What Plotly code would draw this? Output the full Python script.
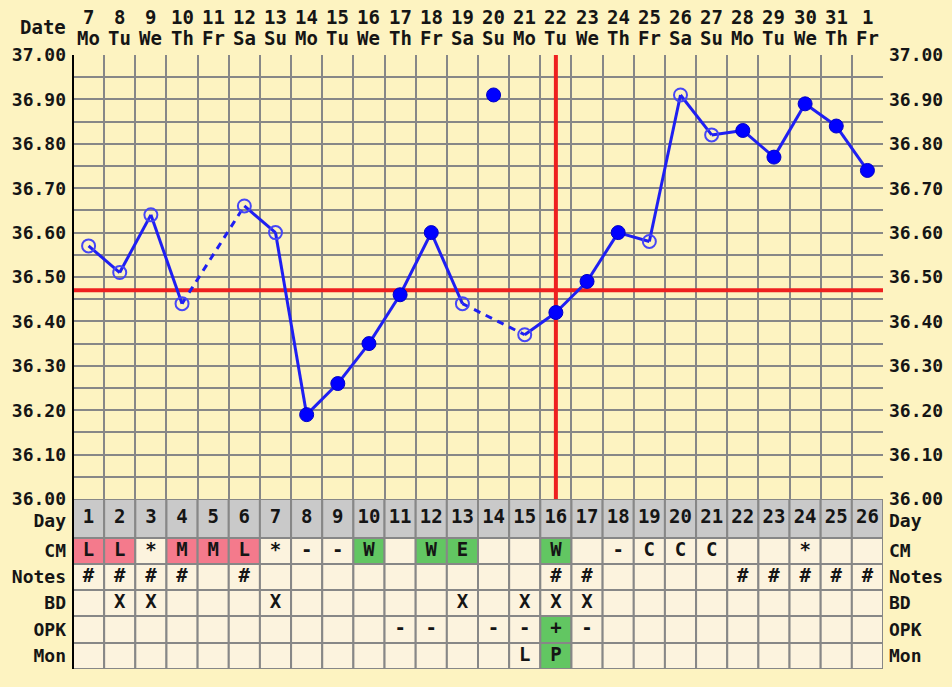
import plotly.graph_objects as go

# ---- cycle data -------------------------------------------------------
cycle_days = list(range(1, 27))
date_nums = ["7", "8", "9", "10", "11", "12", "13", "14", "15", "16", "17", "18", "19",
             "20", "21", "22", "23", "24", "25", "26", "27", "28", "29", "30", "31", "1"]
weekdays = ["Mo", "Tu", "We", "Th", "Fr", "Sa", "Su", "Mo", "Tu", "We", "Th", "Fr", "Sa",
            "Su", "Mo", "Tu", "We", "Th", "Fr", "Sa", "Su", "Mo", "Tu", "We", "Th", "Fr"]

# basal body temperatures (°C); None = not recorded
temps = [36.57, 36.51, 36.64, 36.44, None, 36.66, 36.60, 36.19, 36.26, 36.35,
         36.46, 36.60, 36.44, 36.91, 36.37, 36.42, 36.49, 36.60, 36.58, 36.91,
         36.82, 36.83, 36.77, 36.89, 36.84, 36.74]
# True = temperature taken at an irregular time (open circle)
open_marks = [True, True, True, True, False, True, True, False, False, False,
              False, False, True, False, True, False, False, False, True, True,
              True, False, False, False, False, False]
discarded_days = [14]

cover_line = 36.47
ovulation_day = 16

# observation rows
cm = ["L", "L", "*", "M", "M", "L", "*", "-", "-", "W", "", "W", "E", "", "", "W",
      "", "-", "C", "C", "C", "", "", "*", "", ""]
notes = ["#", "#", "#", "#", "", "#", "", "", "", "", "", "", "", "", "", "#", "#",
         "", "", "", "", "#", "#", "#", "#", "#"]
bd = ["", "X", "X", "", "", "", "X", "", "", "", "", "", "X", "", "X", "X", "X",
      "", "", "", "", "", "", "", "", ""]
opk = ["", "", "", "", "", "", "", "", "", "", "-", "-", "", "-", "-", "+", "-",
       "", "", "", "", "", "", "", "", ""]
mon = ["", "", "", "", "", "", "", "", "", "", "", "", "", "", "L", "P", "",
       "", "", "", "", "", "", "", "", ""]

y_ticks = [round(36.0 + 0.05 * i, 2) for i in range(21)]
y_labels = [f"{v:.2f}" if i % 2 == 0 else "" for i, v in enumerate(y_ticks)]

# ---- styling ----------------------------------------------------------
W, H = 952, 687
BG = "#fdf3c1"
CELL = "#fcf3de"
DAYCELL = "#c9c9c9"
PINK = "#f47a8c"
GREEN = "#62c662"
GRID = "#878787"
RED = "#ee2020"
BLUE = "#1f1ff2"
OPEN_BLUE = "#4646f6"
TXT = "#151515"
FONT = "DejaVu Sans Mono"
FS = 19
AXFS = 18

plot_left, plot_right = 73, 883
temp_top, temp_bottom, table_bottom = 55, 499, 669

def px_x(p):
    return p / W

def px_y(p):
    return 1 - p / H

fig = go.Figure()

# ---- reference lines --------------------------------------------------
fig.add_trace(go.Scatter(x=[0, len(cycle_days)], y=[cover_line, cover_line],
                         mode="lines", line=dict(color=RED, width=4),
                         hoverinfo="skip", showlegend=False))
fig.add_trace(go.Scatter(x=[ovulation_day - 0.5, ovulation_day - 0.5], y=[36.0, 37.0],
                         mode="lines", line=dict(color=RED, width=4),
                         hoverinfo="skip", showlegend=False))

# ---- temperature curve ------------------------------------------------
kept = [(d, t) for d, t in zip(cycle_days, temps)
        if t is not None and d not in discarded_days]
solid_x, solid_y, dash_x, dash_y = [], [], [], []
for (d0, t0), (d1, t1) in zip(kept[:-1], kept[1:]):
    if d1 - d0 == 1:
        solid_x += [d0 - 0.5, d1 - 0.5, None]
        solid_y += [t0, t1, None]
    else:
        dash_x += [d0 - 0.5, d1 - 0.5, None]
        dash_y += [t0, t1, None]

fig.add_trace(go.Scatter(x=solid_x, y=solid_y, mode="lines",
                         line=dict(color=BLUE, width=3), showlegend=False))
fig.add_trace(go.Scatter(x=dash_x, y=dash_y, mode="lines",
                         line=dict(color=BLUE, width=3, dash="7px,6px"),
                         showlegend=False))

fx = [d - 0.5 for d, t, o in zip(cycle_days, temps, open_marks) if t is not None and not o]
fy = [t for t, o in zip(temps, open_marks) if t is not None and not o]
ox = [d - 0.5 for d, t, o in zip(cycle_days, temps, open_marks) if t is not None and o]
oy = [t for t, o in zip(temps, open_marks) if t is not None and o]

fig.add_trace(go.Scatter(x=fx, y=fy, mode="markers",
                         marker=dict(color="#0000ff", size=14,
                                     line=dict(color="#0000c8", width=1)),
                         showlegend=False))
fig.add_trace(go.Scatter(x=ox, y=oy, mode="markers",
                         marker=dict(symbol="circle-open", color=OPEN_BLUE, size=13,
                                     line=dict(width=2)),
                         showlegend=False))

# right-hand temperature axis carrier
fig.add_trace(go.Scatter(x=[None], y=[None], xaxis="x", yaxis="y3", showlegend=False))

# ---- observation table ------------------------------------------------
row_names = ["Day", "CM", "Notes", "BD", "OPK", "Mon"]
row_heights = [39, 26, 26, 26, 27, 26]
row_values = [[str(d) for d in cycle_days], cm, notes, bd, opk, mon]
row_highlight = [
    {},
    {"L": PINK, "M": PINK, "H": PINK, "W": GREEN, "E": GREEN},
    {},
    {},
    {"+": GREEN},
    {"P": GREEN},
]
table_total = sum(row_heights)

row_top = []
acc = table_total
for h in row_heights:
    row_top.append(acc)
    acc -= h
row_centers = [t - h / 2 for t, h in zip(row_top, row_heights)]
# the "Day" caption sits a little low in its tall row, clear of the 36.00 label
label_pos = [c - (2 if n == "Day" else 0) for c, n in zip(row_centers, row_names)]

shapes = []
for r, name in enumerate(row_names):
    y1 = row_top[r]
    y0 = y1 - row_heights[r]
    for i, d in enumerate(cycle_days):
        val = row_values[r][i]
        fill = DAYCELL if name == "Day" else row_highlight[r].get(val, CELL)
        shapes.append(dict(type="rect", xref="x2", yref="y2", x0=d - 1, x1=d,
                           y0=y0, y1=y1, fillcolor=fill,
                           line=dict(color=GRID, width=2), layer="below"))
    xs = [d - 0.5 for d, v in zip(cycle_days, row_values[r]) if v]
    ts = [v for v in row_values[r] if v]
    fig.add_trace(go.Scatter(x=xs, y=[row_centers[r]] * len(xs), text=ts,
                             mode="text", textposition="middle center",
                             textfont=dict(family=FONT, size=FS, color=TXT, weight="bold"),
                             xaxis="x2", yaxis="y2", hoverinfo="skip",
                             showlegend=False))

fig.add_trace(go.Scatter(x=[None], y=[None], xaxis="x2", yaxis="y4", showlegend=False))

# left border running through chart and table
shapes.append(dict(type="line", xref="paper", yref="paper",
                   x0=px_x(plot_left), x1=px_x(plot_left),
                   y0=px_y(table_bottom), y1=px_y(temp_top),
                   line=dict(color="#000000", width=2)))

# ---- header: dates and weekdays --------------------------------------
annotations = []
for d, n, w in zip(cycle_days, date_nums, weekdays):
    annotations.append(dict(x=d - 0.5, y=px_y(17), xref="x", yref="paper", text=n,
                            showarrow=False, xanchor="center", yanchor="middle",
                            font=dict(family=FONT, size=FS, color=TXT, weight="bold")))
    annotations.append(dict(x=d - 0.5, y=px_y(38), xref="x", yref="paper", text=w,
                            showarrow=False, xanchor="center", yanchor="middle",
                            font=dict(family=FONT, size=FS, color=TXT, weight="bold")))
annotations.append(dict(x=px_x(68), y=px_y(27), xref="paper", yref="paper", text="Date",
                        showarrow=False, xanchor="right", yanchor="middle",
                        font=dict(family=FONT, size=FS, color=TXT, weight="bold")))

tick_font = dict(family=FONT, size=AXFS, color=TXT, weight="bold")
x_dom = [px_x(plot_left), px_x(plot_right)]
temp_dom = [px_y(temp_bottom), px_y(temp_top)]
table_dom = [px_y(table_bottom), px_y(temp_bottom)]

fig.update_layout(
    width=W, height=H,
    margin=dict(l=0, r=0, t=0, b=0, autoexpand=False),
    paper_bgcolor=BG, plot_bgcolor=BG,
    showlegend=False,
    shapes=shapes,
    annotations=annotations,
    xaxis=dict(domain=x_dom, range=[0, len(cycle_days)], anchor="y", automargin=False,
               tickvals=list(range(len(cycle_days) + 1)), showticklabels=False,
               ticks="", showgrid=True, gridcolor=GRID, gridwidth=2, zeroline=False,
               showline=True, linecolor="#333333", linewidth=3, fixedrange=True),
    yaxis=dict(domain=temp_dom, range=[36.0, 37.0], anchor="x", automargin=False,
               tickvals=y_ticks, ticktext=y_labels, tickfont=tick_font,
               ticks="", ticklabelstandoff=6, showgrid=True, gridcolor=GRID,
               gridwidth=2, zeroline=False, showline=False),
    yaxis3=dict(overlaying="y", side="right", anchor="x", range=[36.0, 37.0],
                automargin=False,
                tickvals=y_ticks, ticktext=y_labels, tickfont=tick_font,
                ticks="", ticklabelstandoff=5, showgrid=False, zeroline=False,
                showline=False),
    xaxis2=dict(domain=x_dom, range=[0, len(cycle_days)], anchor="y2",
                automargin=False, visible=False, showgrid=False, zeroline=False),
    yaxis2=dict(domain=table_dom, range=[0, table_total], anchor="x2", automargin=False,
                tickvals=label_pos, ticktext=row_names, tickfont=tick_font,
                ticks="", ticklabelstandoff=6, showgrid=False, zeroline=False,
                showline=False),
    yaxis4=dict(overlaying="y2", side="right", anchor="x2", range=[0, table_total],
                automargin=False,
                tickvals=label_pos, ticktext=row_names, tickfont=tick_font,
                ticks="", ticklabelstandoff=5, showgrid=False, zeroline=False,
                showline=False),
)

fig.write_html("out.html")
